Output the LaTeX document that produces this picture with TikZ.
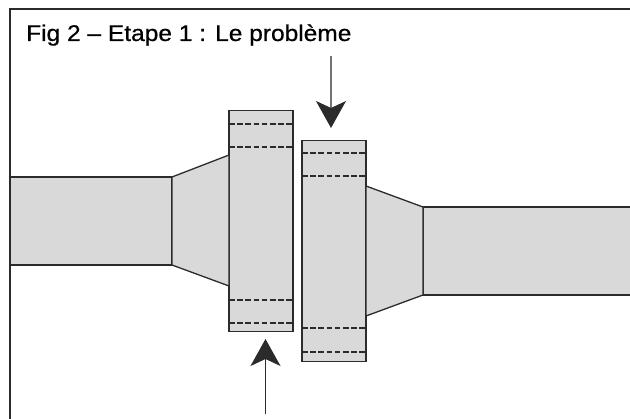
\documentclass[tikz,border=0pt]{standalone}
\usepackage{fontspec}
\setmainfont{Liberation Sans}
\newfontfamily\titlefont{Liberation Sans}[FakeBold=0.6,FakeStretch=1.08]
\usetikzlibrary{arrows.meta}
\definecolor{pipegray}{HTML}{D9D9D9}
\definecolor{inkgray}{HTML}{2B2B2B}
\tikzset{pipe/.style={draw=inkgray,fill=pipegray,line width=1.3pt,inner sep=0pt,outer sep=0pt,line join=miter},
         flange/.style={pipe,minimum width=64pt,minimum height=221pt},
         bore/.style={draw=inkgray,line width=1.2pt,dash pattern=on 5.5pt off 2.7pt},
         pointer/.style={line width=1.1pt,-{Stealth[length=27pt,width=30pt,inset=7pt,color=inkgray]}},
        }

\begin{document}
\begin{tikzpicture}[x=1pt,y=-1pt]
        \useasboundingbox(0,0)rectangle(630,419);

        \coordinate(c1)at(630,9);
        \coordinate(c2)at(10,9);
        \coordinate(c3)at(10,419);
        \draw[line width=1.5pt,draw=inkgray,line join=miter](c1)--(c2)--(c3);

        \node[anchor=base west,font=\titlefont\fontsize{22.7pt}{24pt}\selectfont,text=black,inner sep=0pt](title)at(26,41){Fig 2 – Etape 1 : Le problème};

        \node[pipe,minimum width=162pt,minimum height=88pt](p1)at(91,221){};
        \node[pipe,minimum width=209pt,minimum height=88pt](p2)at(527.5,251){};

        \node[flange](f1)at(261,221){};
        \node[flange](f2)at(334,251){};

        \draw[pipe](p1.north east)--(f1.west|-0,155)--(f1.west|-0,286)--(p1.south east)--cycle;
        \draw[pipe](p2.north west)--(f2.east|-0,186)--(f2.east|-0,316)--(p2.south west)--cycle;

        \draw[bore](f1.west|-0,124)--(f1.east|-0,124);
        \draw[bore](f1.west|-0,147)--(f1.east|-0,147);
        \draw[bore](f1.west|-0,300)--(f1.east|-0,300);
        \draw[bore](f1.west|-0,323)--(f1.east|-0,323);

        \draw[bore](f2.west|-0,153)--(f2.east|-0,153);
        \draw[bore](f2.west|-0,176)--(f2.east|-0,176);
        \draw[bore](f2.west|-0,328)--(f2.east|-0,328);
        \draw[bore](f2.west|-0,352)--(f2.east|-0,352);

        \coordinate(a1)at(331,56);
        \coordinate(t1)at(331,128);
        \coordinate(a2)at(265.5,414);
        \coordinate(t2)at(265.5,339);
        \draw[pointer,draw=gray!90!black](a1)--(t1);
        \draw[pointer,draw=inkgray](a2)--(t2);
\end{tikzpicture}
\end{document}
